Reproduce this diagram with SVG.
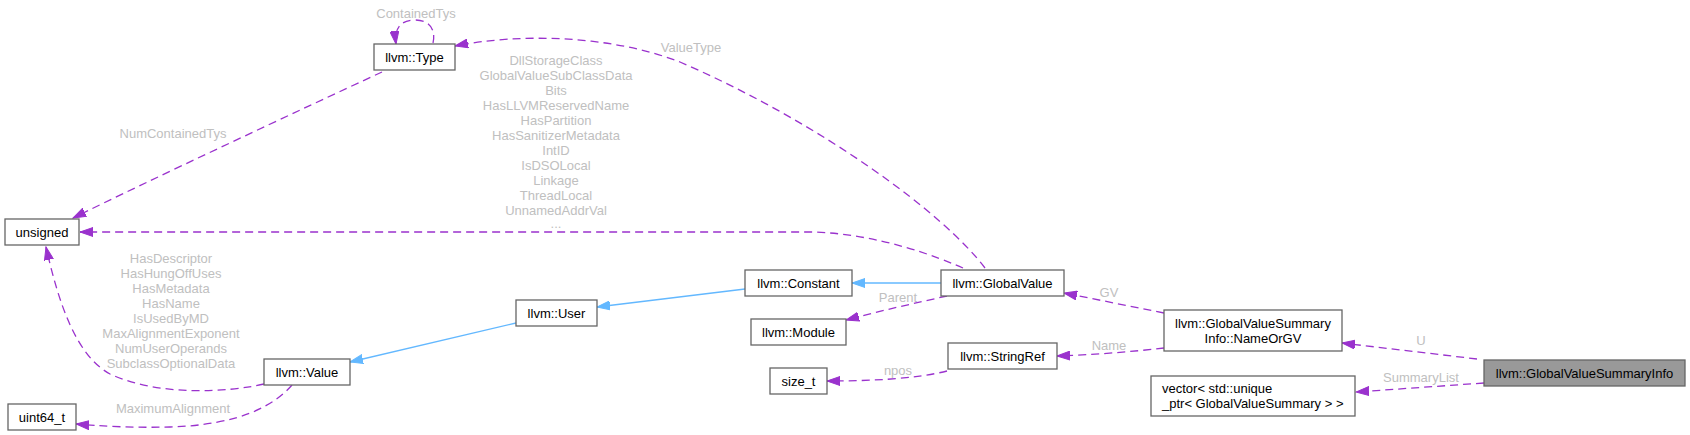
<svg xmlns="http://www.w3.org/2000/svg" width="1690" height="435" viewBox="0 0 1690 435">
<style>
.node rect{fill:#ffffff;stroke:#666666;stroke-width:1.3}
.node.hl rect{fill:#999999}
.node text{font-family:"Liberation Sans",Arial,sans-serif;font-size:13px;fill:#000000;text-anchor:middle}
.edges path{fill:none;stroke-width:1.3}
.use{stroke:#9a32cd;stroke-dasharray:8,5;marker-end:url(#ap)}
.inh{stroke:#63b8ff;marker-end:url(#ab)}
.lbl{font-family:"Liberation Sans",Arial,sans-serif;font-size:13px;fill:#c0c0c0;text-anchor:middle}
</style>
<defs>
<marker id="ap" markerUnits="userSpaceOnUse" markerWidth="14" markerHeight="10" viewBox="0 0 14 10" refX="13" refY="5" orient="auto"><path d="M0,0.5 L13,5 L0,9.5 z" fill="#9a32cd" stroke="#9a32cd" stroke-width="1"/></marker>
<marker id="ab" markerUnits="userSpaceOnUse" markerWidth="14" markerHeight="10" viewBox="0 0 14 10" refX="13" refY="5" orient="auto"><path d="M0,0.5 L13,5 L0,9.5 z" fill="#63b8ff" stroke="#63b8ff" stroke-width="1"/></marker>
</defs>
<rect width="1690" height="435" fill="#ffffff"/>
<g id="connectors" class="edges">
<path class="use" d="M433,43 C436,30 430,20 415,20 C401,20 394,28 396,44"/>
<path class="use" d="M382,72 C300,110 150,180 73,218"/>
<path class="use" d="M963,268 C940,258 880,234 813,232 L80,232"/>
<path class="use" d="M985,268 C945,215 825,125 680,62 C610,35 520,33 455,46"/>
<path class="use" d="M264,384 C230,392 160,397 110,374 C75,355 58,300 46,247"/>
<path class="use" d="M292,385 C275,405 240,425 170,427 C130,428 100,426 76,424"/>
<path class="inh" d="M516,323 L350,362"/>
<path class="inh" d="M745,289 L597,307"/>
<path class="inh" d="M941,283 L852,283"/>
<path class="use" d="M947,296 C915,303 880,311 846,320"/>
<path class="use" d="M947,371 C915,379 870,381 827,381"/>
<path class="use" d="M1164,313 L1064,293"/>
<path class="use" d="M1164,348 C1130,352 1090,355 1057,356"/>
<path class="use" d="M1477,359 L1342,343"/>
<path class="use" d="M1484,383 L1356,392"/>
<text class="lbl" x="416" y="18">ContainedTys</text>
<text class="lbl" x="173" y="138">NumContainedTys</text>
<text class="lbl" x="691" y="52">ValueType</text>
<text class="lbl" x="556" y="64.5">DllStorageClass</text>
<text class="lbl" x="556" y="79.5">GlobalValueSubClassData</text>
<text class="lbl" x="556" y="94.5">Bits</text>
<text class="lbl" x="556" y="109.5">HasLLVMReservedName</text>
<text class="lbl" x="556" y="124.5">HasPartition</text>
<text class="lbl" x="556" y="139.5">HasSanitizerMetadata</text>
<text class="lbl" x="556" y="154.5">IntID</text>
<text class="lbl" x="556" y="169.5">IsDSOLocal</text>
<text class="lbl" x="556" y="184.5">Linkage</text>
<text class="lbl" x="556" y="199.5">ThreadLocal</text>
<text class="lbl" x="556" y="214.5">UnnamedAddrVal</text>
<text class="lbl" x="556" y="228">...</text>
<text class="lbl" x="171" y="263">HasDescriptor</text>
<text class="lbl" x="171" y="278">HasHungOffUses</text>
<text class="lbl" x="171" y="293">HasMetadata</text>
<text class="lbl" x="171" y="308">HasName</text>
<text class="lbl" x="171" y="323">IsUsedByMD</text>
<text class="lbl" x="171" y="338">MaxAlignmentExponent</text>
<text class="lbl" x="171" y="353">NumUserOperands</text>
<text class="lbl" x="171" y="368">SubclassOptionalData</text>
<text class="lbl" x="173" y="413">MaximumAlignment</text>
<text class="lbl" x="898" y="302">Parent</text>
<text class="lbl" x="898" y="374.5">npos</text>
<text class="lbl" x="1109" y="297">GV</text>
<text class="lbl" x="1109" y="350">Name</text>
<text class="lbl" x="1421" y="345">U</text>
<text class="lbl" x="1421" y="382">SummaryList</text>
</g>
<g id="node-unsigned" class="node"><rect x="5" y="219" width="74" height="26"/><text x="42" y="236.5">unsigned</text></g>
<g id="node-type" class="node"><rect x="374" y="44" width="81" height="26"/><text x="414.5" y="61.5">llvm::Type</text></g>
<g id="node-value" class="node"><rect x="264" y="359" width="86" height="26"/><text x="307" y="376.5">llvm::Value</text></g>
<g id="node-uint64" class="node"><rect x="8" y="404" width="68" height="26"/><text x="42" y="421.5">uint64_t</text></g>
<g id="node-user" class="node"><rect x="516" y="300" width="81" height="26"/><text x="556.5" y="317.5">llvm::User</text></g>
<g id="node-constant" class="node"><rect x="745" y="270" width="107" height="26"/><text x="798.5" y="287.5">llvm::Constant</text></g>
<g id="node-globalvalue" class="node"><rect x="941" y="270" width="123" height="26"/><text x="1002.5" y="287.5">llvm::GlobalValue</text></g>
<g id="node-module" class="node"><rect x="751" y="319" width="95" height="26"/><text x="798.5" y="336.5">llvm::Module</text></g>
<g id="node-sizet" class="node"><rect x="770" y="368" width="57" height="26"/><text x="798.5" y="385.5">size_t</text></g>
<g id="node-stringref" class="node"><rect x="948" y="343" width="109" height="26"/><text x="1002.5" y="360.5">llvm::StringRef</text></g>
<g id="node-nameorgv" class="node"><rect x="1164" y="310" width="178" height="41"/><text x="1253" y="328">llvm::GlobalValueSummary</text><text x="1253" y="343">Info::NameOrGV</text></g>
<g id="node-vector" class="node"><rect x="1151" y="376" width="204" height="40"/><text x="1162" y="393" style="text-anchor:start">vector&lt; std::unique</text><text x="1162" y="408" style="text-anchor:start">_ptr&lt; GlobalValueSummary &gt; &gt;</text></g>
<g id="node-gvsi" class="node hl"><rect x="1484" y="360" width="201" height="26"/><text x="1584.5" y="377.5">llvm::GlobalValueSummaryInfo</text></g>
</svg>
